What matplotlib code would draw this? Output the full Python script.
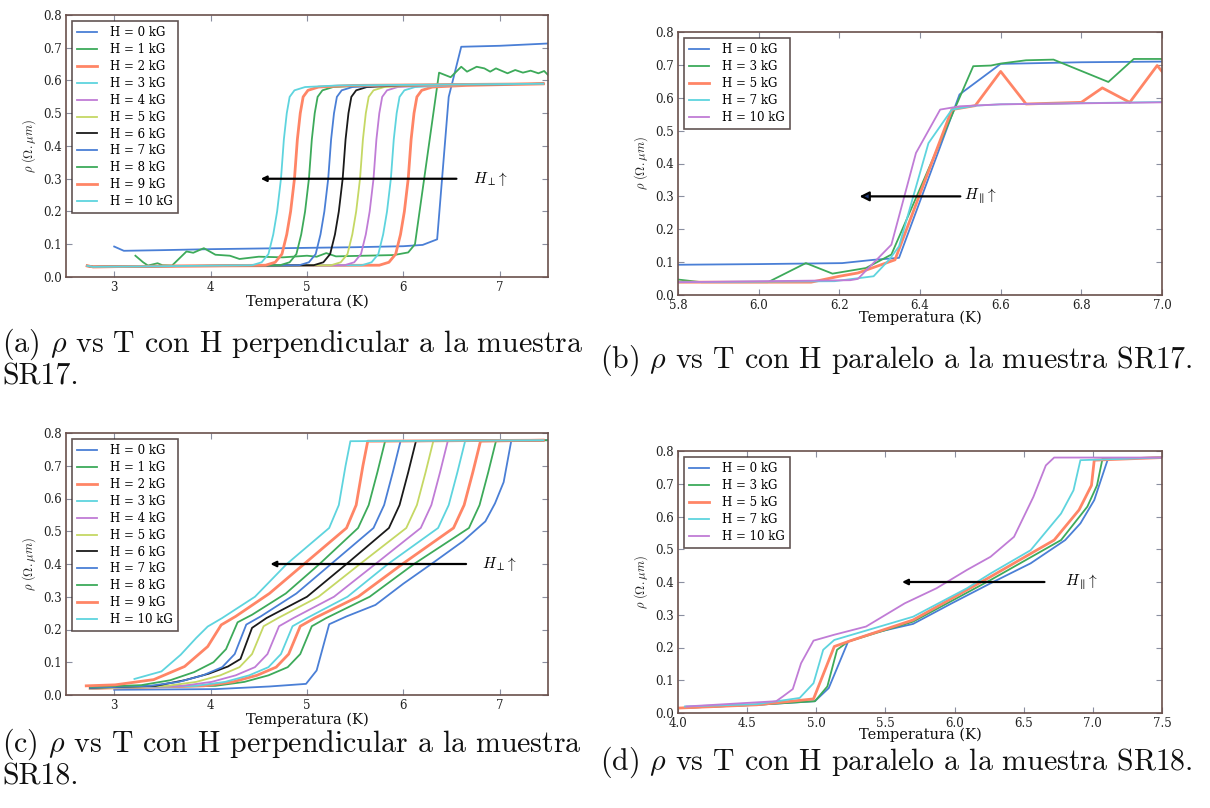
import matplotlib
matplotlib.use("Agg")
import matplotlib.pyplot as plt

plt.rcParams['mathtext.fontset'] = 'cm'
plt.rcParams['font.family'] = ['DejaVu Serif']

C_BLUE = '#4a7fd6'
C_GREEN = '#3daa5a'
C_SALMON = '#ff8566'
C_CYAN = '#5ed4de'
C_VIOLET = '#c07cd6'
C_YG = '#c5d864'
C_BLACK = '#1a1a1a'
SPINE = '#6a504b'

# ---------------- panel (a): SR17, H perpendicular ----------------
a_fields = [0, 1, 2, 3, 4, 5, 6, 7, 8, 9, 10]
a0_T = [3.0, 3.1, 3.5, 4.0, 4.5, 5.0, 5.5, 6.0, 6.2, 6.35, 6.47, 6.6, 7.0, 7.5]
a0_rho = [0.093, 0.08, 0.082, 0.085, 0.087, 0.089, 0.091, 0.094, 0.098, 0.115, 0.55, 0.703, 0.706, 0.713]
a1_T = [3.22, 3.3, 3.35, 3.45, 3.5, 3.6, 3.75, 3.82, 3.93, 4.05, 4.2, 4.3, 4.5, 4.75, 5.0, 5.1,
        5.2, 5.3, 5.6, 5.9, 6.05, 6.12, 6.37, 6.49, 6.6, 6.66, 6.76, 6.84, 6.9, 6.96, 7.08, 7.16,
        7.24, 7.32, 7.4, 7.46, 7.5]
a1_rho = [0.065, 0.045, 0.035, 0.042, 0.036, 0.035, 0.078, 0.074, 0.088, 0.068, 0.065, 0.055,
          0.062, 0.06, 0.065, 0.062, 0.073, 0.063, 0.065, 0.067, 0.075, 0.1, 0.624, 0.61, 0.642,
          0.627, 0.642, 0.637, 0.627, 0.637, 0.622, 0.632, 0.624, 0.63, 0.622, 0.629, 0.617]
a_rho_sharp = [0.034, 0.031, 0.033, 0.036, 0.045, 0.07, 0.13, 0.2, 0.3, 0.42, 0.5, 0.55, 0.57, 0.58, 0.585, 0.59]
a2_T = [2.72, 2.78, 3.5, 5.75, 5.85, 5.92, 5.97, 6.01, 6.05, 6.08, 6.11, 6.14, 6.19, 6.30, 6.65, 7.45]
a3_T = [2.72, 2.78, 3.5, 5.57, 5.67, 5.74, 5.79, 5.83, 5.87, 5.90, 5.93, 5.96, 6.01, 6.12, 6.47, 7.45]
a4_T = [2.72, 2.78, 3.5, 5.39, 5.49, 5.56, 5.61, 5.65, 5.69, 5.72, 5.75, 5.78, 5.83, 5.94, 6.29, 7.45]
a5_T = [2.72, 2.78, 3.5, 5.25, 5.35, 5.42, 5.47, 5.51, 5.55, 5.58, 5.61, 5.64, 5.69, 5.80, 6.15, 7.45]
a6_T = [2.72, 2.78, 3.5, 5.07, 5.17, 5.24, 5.29, 5.33, 5.37, 5.40, 5.43, 5.46, 5.51, 5.62, 5.97, 7.45]
a7_T = [2.72, 2.78, 3.5, 4.92, 5.02, 5.09, 5.14, 5.18, 5.22, 5.25, 5.28, 5.31, 5.36, 5.47, 5.82, 7.45]
a8_T = [2.72, 2.78, 3.5, 4.72, 4.82, 4.89, 4.94, 4.98, 5.02, 5.05, 5.08, 5.11, 5.16, 5.27, 5.62, 7.45]
a9_T = [2.72, 2.78, 3.5, 4.57, 4.67, 4.74, 4.79, 4.83, 4.87, 4.90, 4.93, 4.96, 5.01, 5.12, 5.47, 7.45]
a10_T = [2.72, 2.78, 3.5, 4.43, 4.53, 4.60, 4.65, 4.69, 4.73, 4.76, 4.79, 4.82, 4.87, 4.98, 5.33, 7.45]

# ---------------- panel (b): SR17, H parallel ----------------
b_fields = [0, 3, 5, 7, 10]
b0_T = [5.8, 6.0, 6.207, 6.285, 6.348, 6.498, 6.6, 6.8, 7.0]
b0_rho = [0.092, 0.094, 0.097, 0.107, 0.113, 0.61, 0.703, 0.708, 0.71]
b3_T = [5.8, 5.858, 6.023, 6.117, 6.183, 6.266, 6.329, 6.532, 6.576, 6.6, 6.663, 6.731, 6.867, 6.93, 7.0]
b3_rho = [0.047, 0.039, 0.039, 0.097, 0.065, 0.082, 0.123, 0.696, 0.698, 0.704, 0.714, 0.716, 0.648, 0.718, 0.718]
b5_T = [5.8, 6.13, 6.2, 6.246, 6.338, 6.479, 6.537, 6.6, 6.663, 6.8, 6.852, 6.92, 6.988, 7.0]
b5_rho = [0.039, 0.039, 0.057, 0.067, 0.107, 0.564, 0.576, 0.68, 0.581, 0.586, 0.63, 0.586, 0.698, 0.68]
b7_T = [5.8, 6.188, 6.285, 6.324, 6.348, 6.421, 6.479, 6.537, 6.6, 7.0]
b7_rho = [0.039, 0.042, 0.057, 0.108, 0.148, 0.462, 0.564, 0.576, 0.58, 0.587]
b10_T = [5.8, 6.227, 6.246, 6.329, 6.39, 6.45, 6.498, 6.6, 7.0]
b10_rho = [0.039, 0.045, 0.049, 0.153, 0.432, 0.564, 0.574, 0.58, 0.586]

# ---------------- panel (c): SR18, H perpendicular ----------------
c_fields = [0, 1, 2, 3, 4, 5, 6, 7, 8, 9, 10]
c0_T = [3.0, 4.05, 4.61, 4.99, 5.1, 5.23, 5.41, 5.71, 6.0, 6.29, 6.62, 6.85, 6.95, 7.04, 7.12, 7.5]
c0_rho = [0.016, 0.018, 0.026, 0.034, 0.075, 0.216, 0.24, 0.275, 0.34, 0.40, 0.47, 0.53, 0.585, 0.65, 0.778, 0.778]
c_rho_std = [0.02, 0.028, 0.04, 0.06, 0.085, 0.125, 0.21, 0.235, 0.30, 0.40, 0.51, 0.58, 0.68, 0.775, 0.778]
c1_T = [2.75, 4.05, 4.35, 4.60, 4.80, 4.93, 5.05, 5.20, 5.65, 6.11, 6.68, 6.79, 6.88, 6.96, 7.5]
c2_T = [2.75, 3.93, 4.23, 4.48, 4.68, 4.81, 4.93, 5.08, 5.53, 5.99, 6.52, 6.63, 6.72, 6.80, 7.45]
c3_T = [2.75, 3.85, 4.15, 4.40, 4.60, 4.73, 4.85, 5.00, 5.42, 5.84, 6.36, 6.47, 6.56, 6.64, 7.45]
c4_T = [2.75, 3.71, 4.01, 4.26, 4.46, 4.59, 4.71, 4.86, 5.28, 5.71, 6.18, 6.29, 6.38, 6.46, 7.45]
c5_T = [2.75, 3.55, 3.85, 4.10, 4.30, 4.43, 4.55, 4.70, 5.12, 5.55, 6.03, 6.14, 6.23, 6.31, 7.45]
c6_T = [2.75, 3.43, 3.73, 3.98, 4.18, 4.31, 4.43, 4.58, 5.00, 5.41, 5.85, 5.96, 6.05, 6.13, 7.45]
c6_rho = [0.022, 0.028, 0.045, 0.065, 0.087, 0.11, 0.205, 0.235, 0.30, 0.40, 0.51, 0.58, 0.68, 0.775, 0.778]
c7_T = [2.75, 3.37, 3.67, 3.92, 4.12, 4.25, 4.37, 4.52, 4.89, 5.25, 5.69, 5.80, 5.89, 5.97, 7.45]
c7_rho = [0.022, 0.028, 0.04, 0.06, 0.085, 0.125, 0.215, 0.24, 0.31, 0.40, 0.51, 0.58, 0.68, 0.775, 0.778]
c8_T = [2.75, 3.28, 3.58, 3.83, 4.03, 4.16, 4.28, 4.43, 4.78, 5.13, 5.53, 5.64, 5.73, 5.81, 7.45]
c8_rho = [0.025, 0.03, 0.045, 0.07, 0.10, 0.14, 0.222, 0.245, 0.31, 0.40, 0.51, 0.58, 0.68, 0.775, 0.778]
c9_T = [2.71, 3.01, 3.41, 3.73, 3.97, 4.11, 4.26, 4.61, 4.97, 5.41, 5.51, 5.58, 5.63, 7.45]
c9_rho = [0.028, 0.031, 0.047, 0.087, 0.148, 0.214, 0.24, 0.31, 0.40, 0.51, 0.58, 0.70, 0.775, 0.778]
c10_T = [3.21, 3.49, 3.69, 3.85, 3.97, 4.12, 4.46, 4.79, 5.23, 5.33, 5.40, 5.45, 7.45]
c10_rho = [0.049, 0.072, 0.123, 0.174, 0.209, 0.235, 0.30, 0.40, 0.51, 0.58, 0.70, 0.775, 0.778]

# ---------------- panel (d): SR18, H parallel ----------------
d_fields = [0, 3, 5, 7, 10]
d0_T = [4.0, 4.57, 4.99, 5.09, 5.23, 5.41, 5.70, 5.98, 6.26, 6.55, 6.80, 6.91, 7.01, 7.11, 7.5]
d0_rho = [0.015, 0.025, 0.036, 0.076, 0.218, 0.244, 0.272, 0.335, 0.396, 0.457, 0.528, 0.579, 0.65, 0.777, 0.78]
d3_T = [4.0, 4.57, 4.99, 5.08, 5.15, 5.23, 5.70, 6.26, 6.77, 6.96, 7.03, 7.07, 7.5]
d3_rho = [0.015, 0.025, 0.036, 0.081, 0.193, 0.218, 0.279, 0.406, 0.528, 0.63, 0.695, 0.777, 0.78]
d5_T = [4.0, 4.57, 4.98, 5.13, 5.25, 5.70, 6.26, 6.72, 6.90, 6.99, 7.01, 7.5]
d5_rho = [0.015, 0.025, 0.043, 0.203, 0.221, 0.284, 0.416, 0.528, 0.62, 0.695, 0.772, 0.78]
d7_T = [4.05, 4.57, 4.88, 4.98, 5.05, 5.13, 5.70, 6.09, 6.26, 6.55, 6.77, 6.86, 6.91, 7.5]
d7_rho = [0.02, 0.027, 0.046, 0.091, 0.193, 0.223, 0.294, 0.381, 0.426, 0.497, 0.609, 0.68, 0.772, 0.78]
d10_T = [4.06, 4.71, 4.76, 4.83, 4.89, 4.98, 5.13, 5.36, 5.64, 5.87, 6.09, 6.26, 6.43, 6.57, 6.66, 6.72, 7.5]
d10_rho = [0.02, 0.036, 0.051, 0.073, 0.152, 0.221, 0.239, 0.264, 0.335, 0.381, 0.437, 0.477, 0.538, 0.66, 0.756, 0.78, 0.78]

cycle = [C_BLUE, C_GREEN, C_SALMON, C_CYAN, C_VIOLET, C_YG, C_BLACK]


def lw_for(color):
    return 2.0 if color == C_SALMON else 1.3


fig = plt.figure(figsize=(12.1, 8.08), dpi=100)

W, H = 1210.0, 808.0


def make_ax(l, r, t, b):
    return fig.add_axes([l / W, 1 - b / H, (r - l) / W, (b - t) / H])


ax_a = make_ax(66, 548, 15, 277)
ax_b = make_ax(678, 1162, 32, 295)
ax_c = make_ax(66, 548, 433, 695)
ax_d = make_ax(678, 1162, 451, 713)


def style(ax, xlim, xpad=0):
    ax.set_xlim(*xlim)
    ax.set_ylim(0, 0.8)
    for s in ax.spines.values():
        s.set_color(SPINE)
        s.set_linewidth(1.2)
    ax.tick_params(direction='in', top=True, right=True, length=4, width=0.8,
                   color='#8a8fa0', labelsize=8.5, pad=3, labelcolor='#222222')
    ax.set_xlabel('Temperatura (K)', fontsize=10.5, labelpad=xpad, color='#111111')
    ax.set_ylabel(r'$\rho\ (\Omega.\mu m)$', fontsize=9, labelpad=4, color='#222222')


def legend(ax):
    leg = ax.legend(loc='upper left', fontsize=8.5, frameon=True, fancybox=False,
                    handlelength=1.7, handletextpad=1.1, labelspacing=0.33,
                    borderpad=0.45, borderaxespad=0.5)
    leg.get_frame().set_edgecolor('#3a2a28')
    leg.get_frame().set_linewidth(1.2)
    return leg


# panel a
a_T_list = [a0_T, a1_T, a2_T, a3_T, a4_T, a5_T, a6_T, a7_T, a8_T, a9_T, a10_T]
a_rho_list = [a0_rho, a1_rho] + [a_rho_sharp] * 9
for i, (h, T, r) in enumerate(zip(a_fields, a_T_list, a_rho_list)):
    col = cycle[i % 7]
    ax_a.plot(T, r, color=col, lw=lw_for(col), label='H = %d kG' % h)
style(ax_a, (2.5, 7.5))
ax_a.set_xticks([3, 4, 5, 6, 7])
legend(ax_a)
ax_a.annotate('', xy=(4.52, 0.3), xytext=(6.55, 0.3),
              arrowprops=dict(arrowstyle='-|>', color='k', lw=1.6, mutation_scale=8,
                              shrinkA=0, shrinkB=0))
ax_a.text(6.72, 0.3, r'$H_{\perp}\!\uparrow$', fontsize=11, va='center', ha='left')

# panel b
b_T_list = [b0_T, b3_T, b5_T, b7_T, b10_T]
b_rho_list = [b0_rho, b3_rho, b5_rho, b7_rho, b10_rho]
b_colors = [C_BLUE, C_GREEN, C_SALMON, C_CYAN, C_VIOLET]
for h, T, r, col in zip(b_fields, b_T_list, b_rho_list, b_colors):
    ax_b.plot(T, r, color=col, lw=lw_for(col), label='H = %d kG' % h)
style(ax_b, (5.8, 7.0), xpad=-1)
ax_b.set_xticks([5.8, 6.0, 6.2, 6.4, 6.6, 6.8, 7.0])
legend(ax_b)
ax_b.annotate('', xy=(6.25, 0.3), xytext=(6.50, 0.3),
              arrowprops=dict(arrowstyle='-|>', color='k', fc='#1f3a78', lw=1.6,
                              mutation_scale=14, shrinkA=0, shrinkB=0))
ax_b.text(6.51, 0.3, r'$H_{\parallel}\!\uparrow$', fontsize=11, va='center', ha='left')

# panel c
c_T_list = [c0_T, c1_T, c2_T, c3_T, c4_T, c5_T, c6_T, c7_T, c8_T, c9_T, c10_T]
c_rho_list = [c0_rho, c_rho_std, c_rho_std, c_rho_std, c_rho_std, c_rho_std,
              c6_rho, c7_rho, c8_rho, c9_rho, c10_rho]
for i, (h, T, r) in enumerate(zip(c_fields, c_T_list, c_rho_list)):
    col = cycle[i % 7]
    ax_c.plot(T, r, color=col, lw=lw_for(col), label='H = %d kG' % h)
style(ax_c, (2.5, 7.5))
ax_c.set_xticks([3, 4, 5, 6, 7])
legend(ax_c)
ax_c.annotate('', xy=(4.62, 0.4), xytext=(6.65, 0.4),
              arrowprops=dict(arrowstyle='-|>', color='k', lw=1.6, mutation_scale=8,
                              shrinkA=0, shrinkB=0))
ax_c.text(6.82, 0.4, r'$H_{\perp}\!\uparrow$', fontsize=11, va='center', ha='left')

# panel d
d_T_list = [d0_T, d3_T, d5_T, d7_T, d10_T]
d_rho_list = [d0_rho, d3_rho, d5_rho, d7_rho, d10_rho]
for h, T, r, col in zip(d_fields, d_T_list, d_rho_list, b_colors):
    ax_d.plot(T, r, color=col, lw=lw_for(col), label='H = %d kG' % h)
style(ax_d, (4.0, 7.5), xpad=-1.5)
ax_d.set_xticks([4.0, 4.5, 5.0, 5.5, 6.0, 6.5, 7.0, 7.5])
legend(ax_d)
ax_d.annotate('', xy=(5.62, 0.4), xytext=(6.65, 0.4),
              arrowprops=dict(arrowstyle='-|>', color='k', lw=1.6, mutation_scale=8,
                              shrinkA=0, shrinkB=0))
ax_d.text(6.80, 0.4, r'$H_{\parallel}\!\uparrow$', fontsize=11, va='center', ha='left')

# captions
cap_kw = dict(fontsize=21.5, family='cmr10', va='center', ha='left', color='#111111')
fig.text(2 / W, 1 - 344 / H, r'(a) $\rho$ vs T con H perpendicular a la muestra', **cap_kw)
fig.text(2 / W, 1 - 377 / H, 'SR17.', **cap_kw)
fig.text(600 / W, 1 - 360 / H, r'(b) $\rho$ vs T con H paralelo a la muestra SR17.', **cap_kw)
fig.text(2 / W, 1 - 744 / H, r'(c) $\rho$ vs T con H perpendicular a la muestra', **cap_kw)
fig.text(2 / W, 1 - 777 / H, 'SR18.', **cap_kw)
fig.text(600 / W, 1 - 762 / H, r'(d) $\rho$ vs T con H paralelo a la muestra SR18.', **cap_kw)

fig.savefig('out.png', dpi=100)
